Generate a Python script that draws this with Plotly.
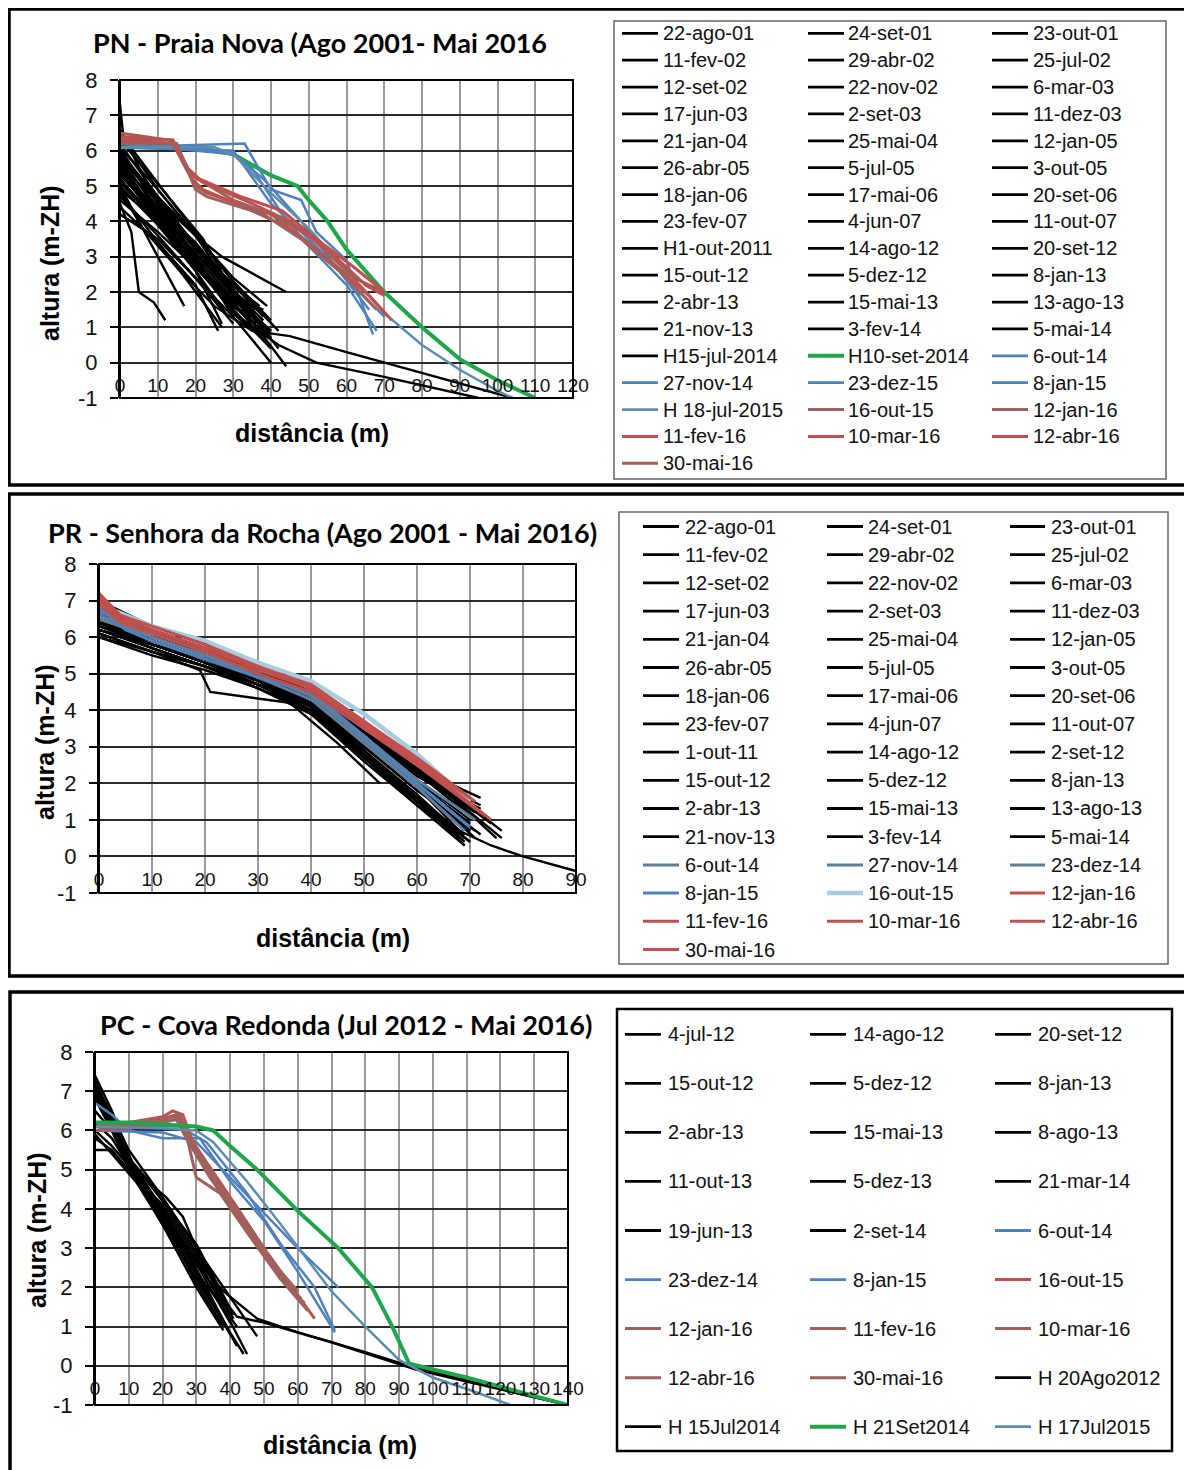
import plotly.graph_objects as go

# ---------------------------------------------------------------- DATA
Y_TICKS = [-1, 0, 1, 2, 3, 4, 5, 6, 7, 8]
Y_TICK_TEXT = ["-1", "0", "1", "2", "3", "4", "5", "6", "7", "8"]

PN_title = "PN - Praia Nova (Ago 2001- Mai 2016"
PN_x_ticks = [0, 10, 20, 30, 40, 50, 60, 70, 80, 90, 100, 110, 120]
PN_labels = [
    "22-ago-01", "24-set-01", "23-out-01", "11-fev-02", "29-abr-02", "25-jul-02",
    "12-set-02", "22-nov-02", "6-mar-03", "17-jun-03", "2-set-03", "11-dez-03",
    "21-jan-04", "25-mai-04", "12-jan-05", "26-abr-05", "5-jul-05", "3-out-05",
    "18-jan-06", "17-mai-06", "20-set-06", "23-fev-07", "4-jun-07", "11-out-07",
    "H1-out-2011", "14-ago-12", "20-set-12", "15-out-12", "5-dez-12", "8-jan-13",
    "2-abr-13", "15-mai-13", "13-ago-13", "21-nov-13", "3-fev-14", "5-mai-14",
    "H15-jul-2014", "H10-set-2014", "6-out-14", "27-nov-14", "23-dez-15", "8-jan-15",
    "H 18-jul-2015", "16-out-15", "12-jan-16", "11-fev-16", "10-mar-16", "12-abr-16",
    "30-mai-16",
]
PN_x = [
    [0, 8, 18, 28, 38], [0, 10, 20, 30, 40], [0, 10, 20, 30, 37], [0, 6, 15, 25, 35],
    [0, 3, 5, 9, 12], [0, 8, 17], [0, 10, 20, 27, 44], [0, 12, 22, 32, 42],
    [0, 10, 20, 30, 40], [0, 8, 18, 27], [0, 10, 20, 30, 38], [0, 12, 22, 32, 44],
    [0, 10, 20, 30, 40], [0, 10, 20, 26], [0, 10, 20, 30, 38], [0, 10, 20, 30, 37],
    [0, 10, 20, 30, 40], [0, 10, 20, 28], [0, 10, 20, 30, 40], [0, 10, 20, 30, 36],
    [0, 10, 20, 30], [0, 8, 18, 28, 38], [0, 10, 20, 30, 39], [0, 10, 20, 30],
    [0, 10, 20, 30, 35, 45, 60, 80, 104], [0, 10, 20, 30, 40], [0, 10, 20, 30, 38],
    [0, 10, 20, 30, 40], [0, 10, 20, 30, 36], [0, 10, 20, 27], [0, 1, 10, 20, 30, 42],
    [0, 10, 20, 30, 39], [0, 10, 20, 30, 36], [0, 10, 20, 30, 40], [0, 10, 20, 30],
    [0, 10, 20, 30, 38], [0, 10, 20, 30, 42, 52, 70, 95],
    [0, 20, 30, 40, 47, 50, 55, 60, 65, 70, 80, 90, 100, 110],
    [0, 33, 40, 48, 52, 60, 67], [0, 29, 35, 43, 50, 60, 68],
    [0, 30, 38, 48, 58, 66], [0, 30, 40, 50, 60, 70],
    [0, 25, 30, 40, 50, 60, 70, 80, 90, 100, 104],
    [0, 4, 14, 17, 20, 23, 40, 50, 60, 70], [0, 13, 16, 19, 30, 40, 50, 60, 72],
    [0, 14, 18, 22, 35, 45, 55, 65, 70], [0, 15, 19, 22, 33, 45, 56, 66, 71],
    [0, 14, 18, 21, 32, 43, 52, 62, 70], [0, 15, 20, 23, 38, 48, 58, 68],
]
PN_y = [
    [5.6, 4.4, 3.1, 1.9, 1.1], [6.0, 4.6, 3.3, 2.0, 0.8], [5.2, 4.0, 2.8, 1.6, 1.2], [4.9, 3.8, 2.7, 1.6, 0.9],
    [4.5, 3.7, 2.0, 1.7, 1.2], [5.0, 3.4, 1.6], [5.8, 4.6, 3.6, 3.0, 2.0], [6.3, 4.8, 3.4, 2.0, 0.9],
    [5.4, 4.1, 2.9, 1.7, 0.4], [4.8, 3.7, 2.3, 1.0], [5.7, 4.4, 3.0, 1.8, 1.5], [6.5, 4.8, 3.5, 1.6, -0.1],
    [4.2, 3.5, 2.4, 1.3, 0.0], [4.4, 3.4, 2.2, 0.9], [6.0, 4.5, 3.2, 2.2, 1.3], [5.5, 4.3, 3.3, 2.2, 1.6],
    [6.1, 4.9, 3.6, 2.3, 1.2], [5.2, 3.9, 2.6, 1.4], [5.8, 4.3, 3.1, 1.9, 0.7], [5.0, 3.9, 2.8, 1.8, 1.4],
    [4.7, 3.6, 2.4, 1.1], [6.6, 4.9, 3.5, 2.2, 1.2], [5.3, 4.2, 3.1, 2.0, 1.3], [5.9, 4.6, 3.0, 1.3],
    [6.0, 4.5, 2.9, 1.4, 0.9, 0.75, 0.3, -0.3, -1.0], [4.6, 3.7, 2.7, 1.5, 0.4], [5.5, 4.2, 2.8, 1.4, 0.8],
    [6.2, 4.7, 3.3, 1.9, 0.9], [5.1, 4.0, 2.8, 1.6, 1.1], [5.4, 4.0, 2.6, 1.1], [7.3, 6.3, 4.9, 3.6, 2.0, 0.4],
    [5.9, 4.7, 3.6, 2.4, 1.6], [4.9, 4.0, 3.1, 2.0, 1.5], [5.7, 4.1, 2.7, 1.6, 0.7], [6.1, 4.3, 2.8, 1.5],
    [5.3, 4.4, 3.4, 2.1, 1.0], [5.6, 4.2, 2.8, 1.4, 0.5, 0.0, -0.4, -1.0],
    [6.1, 6.1, 5.9, 5.3, 5.0, 4.6, 4.0, 3.2, 2.6, 2.0, 1.0, 0.1, -0.5, -1.0],
    [6.1, 6.2, 4.9, 4.6, 3.7, 2.9, 0.8], [6.1, 6.0, 5.5, 4.2, 3.3, 2.2, 0.9],
    [6.2, 5.9, 5.2, 4.0, 2.6, 1.5], [6.1, 6.0, 4.5, 3.5, 2.4, 1.3],
    [6.1, 6.1, 5.9, 4.8, 3.8, 2.6, 1.4, 0.5, -0.2, -0.8, -1.0],
    [6.4, 6.3, 6.3, 5.6, 5.0, 4.8, 4.2, 3.4, 2.5, 2.0], [6.5, 6.3, 5.9, 5.3, 4.6, 4.2, 3.6, 2.6, 1.2],
    [6.3, 6.2, 5.4, 5.1, 4.5, 4.0, 3.2, 2.2, 1.9], [6.3, 6.2, 5.2, 4.9, 4.4, 3.8, 2.8, 1.9, 1.3],
    [6.4, 6.3, 5.5, 5.2, 4.7, 4.3, 3.5, 2.7, 2.0], [6.2, 6.2, 4.9, 4.7, 4.2, 3.5, 2.6, 1.5],
]

PR_title = "PR - Senhora da Rocha (Ago 2001 - Mai 2016)"
PR_x_ticks = [0, 10, 20, 30, 40, 50, 60, 70, 80, 90]
PR_labels = [
    "22-ago-01", "24-set-01", "23-out-01", "11-fev-02", "29-abr-02", "25-jul-02",
    "12-set-02", "22-nov-02", "6-mar-03", "17-jun-03", "2-set-03", "11-dez-03",
    "21-jan-04", "25-mai-04", "12-jan-05", "26-abr-05", "5-jul-05", "3-out-05",
    "18-jan-06", "17-mai-06", "20-set-06", "23-fev-07", "4-jun-07", "11-out-07",
    "1-out-11", "14-ago-12", "2-set-12", "15-out-12", "5-dez-12", "8-jan-13",
    "2-abr-13", "15-mai-13", "13-ago-13", "21-nov-13", "3-fev-14", "5-mai-14",
    "6-out-14", "27-nov-14", "23-dez-14", "8-jan-15", "16-out-15", "12-jan-16",
    "11-fev-16", "10-mar-16", "12-abr-16", "30-mai-16",
]
PR_x = [
    [0, 10, 20, 30, 38, 50, 60, 70], [0, 10, 20, 30, 37, 50, 60, 69], [0, 10, 20, 30, 38, 50, 60, 71],
    [0, 10, 19, 21, 31, 36, 45, 53], [0, 10, 20, 30, 40, 50, 60, 68], [0, 10, 20, 30, 40, 50, 60, 70],
    [0, 10, 20, 30, 40, 50, 60, 72], [0, 10, 20, 30, 40, 50, 60, 69], [0, 10, 20, 30, 40, 50, 60, 70],
    [0, 10, 20, 30, 40, 50, 60, 71], [0, 10, 20, 30, 40, 50, 60, 76], [0, 10, 20, 30, 40, 50, 60, 75],
    [0, 10, 20, 30, 40, 50, 60, 72], [0, 10, 20, 30, 40, 50, 60, 69], [0, 10, 20, 30, 40, 50, 60, 70],
    [0, 10, 20, 30, 40, 50, 60, 68], [0, 10, 20, 30, 40, 50, 60, 71], [0, 10, 20, 30, 40, 50, 60, 70],
    [0, 10, 20, 30, 40, 50, 60, 74], [0, 10, 20, 30, 40, 50, 60, 69], [0, 10, 20, 30, 40, 50, 60, 70],
    [0, 10, 20, 30, 40, 50, 60, 72], [0, 10, 20, 30, 40, 50, 60, 69], [0, 10, 20, 30, 40, 50, 60, 70],
    [0, 10, 20, 30, 40, 50, 60, 68, 74, 80, 90], [0, 10, 20, 30, 40, 50, 60, 71],
    [0, 10, 20, 30, 40, 50, 60, 70], [0, 10, 20, 30, 40, 50, 60, 72], [0, 10, 20, 30, 40, 50, 60, 70],
    [0, 10, 20, 30, 40, 50, 60, 69], [0, 10, 20, 30, 40, 50, 60, 71], [0, 10, 20, 30, 40, 50, 60, 70],
    [0, 10, 20, 30, 40, 50, 60, 68], [0, 10, 20, 30, 40, 50, 60, 76], [0, 10, 20, 30, 40, 50, 60, 70],
    [0, 10, 20, 30, 40, 50, 60, 72],
    [0, 10, 20, 30, 40, 50, 60, 69], [0, 10, 20, 30, 40, 50, 60, 70], [0, 10, 20, 30, 40, 50, 60, 71],
    [0, 5, 10, 20, 30, 40, 50, 60, 70], [0, 5, 10, 20, 30, 40, 50, 60, 70],
    [0, 4, 10, 20, 30, 40, 50, 60, 74], [0, 4, 10, 20, 30, 40, 50, 60, 72],
    [0, 4, 10, 20, 30, 40, 50, 60, 71], [0, 4, 10, 20, 30, 40, 50, 60, 73],
    [0, 4, 10, 20, 30, 40, 50, 60, 70],
]
PR_y = [
    [6.5, 6.0, 5.5, 4.9, 4.3, 3.2, 2.0, 0.7], [6.2, 5.8, 5.3, 4.8, 4.2, 2.9, 1.6, 0.4], [6.6, 6.1, 5.6, 5.0, 4.5, 3.3, 2.3, 1.0],
    [6.1, 5.6, 5.1, 4.5, 4.3, 4.2, 3.1, 2.0], [6.4, 5.7, 5.2, 4.7, 4.0, 2.8, 1.6, 0.6], [6.8, 6.2, 5.7, 5.1, 4.5, 3.4, 2.3, 1.1],
    [6.3, 5.9, 5.4, 4.8, 4.2, 3.0, 1.9, 0.6], [6.0, 5.5, 5.1, 4.6, 3.9, 2.7, 1.4, 0.3], [6.7, 6.1, 5.6, 5.0, 4.4, 3.2, 2.0, 0.8],
    [6.5, 6.0, 5.5, 4.9, 4.3, 3.1, 1.9, 0.5], [6.6, 6.2, 5.7, 5.1, 4.5, 3.5, 2.5, 0.7], [6.9, 6.3, 5.8, 5.2, 4.6, 3.6, 2.5, 0.5],
    [6.4, 6.0, 5.5, 4.9, 4.4, 3.4, 2.4, 1.6], [6.2, 5.7, 5.2, 4.7, 4.0, 2.9, 1.7, 0.5], [6.3, 5.8, 5.4, 4.9, 4.2, 3.1, 1.9, 0.8],
    [6.5, 5.9, 5.4, 4.8, 4.1, 2.8, 1.5, 0.5], [6.7, 6.2, 5.7, 5.1, 4.5, 3.4, 2.3, 1.2], [6.1, 5.6, 5.2, 4.7, 4.1, 2.9, 1.6, 0.4],
    [6.8, 6.2, 5.7, 5.2, 4.6, 3.5, 2.4, 0.9], [6.4, 5.8, 5.3, 4.7, 4.0, 2.8, 1.6, 0.6], [6.6, 6.1, 5.5, 4.9, 4.3, 3.2, 2.1, 1.0],
    [6.3, 5.9, 5.4, 4.8, 4.3, 3.3, 2.2, 1.3], [6.5, 5.9, 5.4, 4.8, 4.1, 2.9, 1.6, 0.3], [6.9, 6.2, 5.6, 5.0, 4.4, 3.2, 2.0, 0.9],
    [6.4, 5.9, 5.4, 4.8, 4.2, 3.1, 1.9, 0.7, 0.3, 0.0, -0.4], [6.2, 5.8, 5.3, 4.7, 4.1, 3.0, 1.8, 0.7],
    [6.0, 5.6, 5.2, 4.6, 4.0, 2.8, 1.5, 0.4], [6.7, 6.1, 5.6, 5.0, 4.5, 3.4, 2.3, 1.4], [6.5, 6.0, 5.5, 4.9, 4.3, 3.1, 1.9, 0.7],
    [6.3, 5.8, 5.3, 4.7, 4.0, 2.7, 1.5, 0.6], [7.0, 6.3, 5.8, 5.2, 4.6, 3.5, 2.3, 1.0], [6.4, 5.9, 5.4, 4.9, 4.3, 3.2, 2.0, 0.9],
    [6.2, 5.7, 5.2, 4.6, 3.9, 2.6, 1.4, 0.6], [6.6, 6.1, 5.6, 5.1, 4.5, 3.4, 2.4, 0.5], [6.8, 6.2, 5.7, 5.1, 4.5, 3.3, 2.1, 0.8],
    [6.5, 6.0, 5.5, 5.0, 4.4, 3.3, 2.2, 1.2],
    [6.6, 6.0, 5.5, 4.9, 4.3, 3.1, 1.9, 0.7], [6.7, 6.1, 5.6, 5.0, 4.4, 3.2, 2.0, 0.8], [6.5, 6.0, 5.5, 5.0, 4.4, 3.3, 2.1, 1.0],
    [6.8, 6.2, 5.9, 5.4, 4.9, 4.5, 3.3, 2.0, 0.8], [6.9, 6.6, 6.3, 5.9, 5.3, 4.8, 3.9, 2.8, 1.5],
    [7.2, 6.6, 6.3, 5.8, 5.2, 4.7, 3.7, 2.6, 1.0], [7.0, 6.5, 6.2, 5.7, 5.1, 4.6, 3.6, 2.5, 1.2],
    [7.1, 6.6, 6.2, 5.7, 5.1, 4.7, 3.7, 2.7, 1.5], [6.9, 6.4, 6.1, 5.6, 5.0, 4.5, 3.5, 2.5, 1.1],
    [7.0, 6.5, 6.2, 5.7, 5.2, 4.6, 3.6, 2.6, 1.6],
]

PC_title = "PC - Cova Redonda (Jul 2012 - Mai 2016)"
PC_x_ticks = [0, 10, 20, 30, 40, 50, 60, 70, 80, 90, 100, 110, 120, 130, 140]
PC_labels = [
    "4-jul-12", "14-ago-12", "20-set-12", "15-out-12", "5-dez-12", "8-jan-13",
    "2-abr-13", "15-mai-13", "8-ago-13", "11-out-13", "5-dez-13", "21-mar-14",
    "19-jun-13", "2-set-14", "6-out-14", "23-dez-14", "8-jan-15", "16-out-15",
    "12-jan-16", "11-fev-16", "10-mar-16", "12-abr-16", "30-mai-16", "H 20Ago2012",
    "H 15Jul2014", "H 21Set2014", "H 17Jul2015",
]
PC_x = [
    [0, 5, 10, 20, 30, 42], [0, 5, 10, 20, 30, 44], [0, 4, 10, 20, 30, 40], [0, 5, 10, 20, 30, 41],
    [0, 5, 10, 20, 30, 40], [0, 5, 10, 15, 20, 30, 38], [0, 5, 10, 21, 26, 30, 40],
    [0, 5, 10, 20, 30, 48], [0, 5, 10, 20, 28, 39], [0, 5, 10, 20, 30, 42], [0, 3, 10, 20, 30, 45],
    [0, 5, 10, 20, 30, 40], [0, 5, 10, 16, 20, 30, 41], [0, 5, 10, 20, 30, 38],
    [0, 5, 10, 20, 31, 40, 50, 60, 71], [0, 20, 30, 40, 50, 60, 72], [0, 25, 33, 45, 55, 65, 71],
    [0, 10, 20, 23, 26, 29, 40, 50, 60, 65], [0, 10, 20, 24, 27, 30, 37, 45, 55, 62],
    [0, 10, 20, 25, 28, 35, 45, 55, 61], [0, 10, 20, 24, 27, 34, 44, 52, 58],
    [0, 10, 20, 23, 26, 33, 43, 53, 60], [0, 10, 20, 25, 28, 36, 46, 56, 63],
    [0, 5, 10, 20, 30, 38, 48, 60, 80, 93, 110, 125, 140],
    [0, 5, 10, 20, 30, 42, 50, 70, 95, 110, 125, 140],
    [0, 10, 20, 30, 35, 40, 48, 60, 72, 82, 88, 93, 110, 125, 140],
    [0, 20, 30, 35, 45, 55, 70, 80, 90, 100, 112, 123],
]
PC_y = [
    [7.3, 6.3, 5.2, 3.8, 2.4, 0.5], [7.1, 6.0, 5.0, 3.6, 2.2, 0.3], [5.5, 5.5, 4.9, 3.9, 2.6, 1.1], [6.9, 6.1, 5.3, 4.2, 2.9, 1.2],
    [5.8, 5.5, 5.0, 4.0, 2.7, 1.3], [7.4, 6.5, 5.4, 4.4, 3.8, 2.1, 1.0], [6.0, 5.6, 5.1, 4.3, 3.8, 3.0, 1.4],
    [7.2, 6.4, 5.5, 4.3, 3.0, 0.75], [6.5, 6.0, 5.2, 4.0, 2.8, 1.0], [7.0, 6.2, 5.2, 3.9, 2.4, 1.0], [5.9, 5.6, 5.0, 4.1, 2.8, 0.3],
    [6.8, 6.0, 5.1, 3.7, 2.3, 0.8], [7.2, 6.3, 5.3, 4.7, 4.2, 3.1, 1.3], [6.2, 5.8, 5.1, 3.6, 2.0, 0.9],
    [6.7, 6.4, 6.0, 5.8, 5.8, 4.7, 3.7, 2.4, 0.85], [6.0, 5.95, 5.7, 4.8, 3.9, 3.0, 2.0], [6.1, 6.1, 5.7, 4.4, 3.1, 2.0, 0.9],
    [6.1, 6.2, 6.35, 6.5, 6.4, 5.7, 4.3, 3.0, 1.8, 1.2], [6.0, 6.1, 6.3, 6.4, 5.9, 4.8, 4.4, 3.4, 2.2, 1.6],
    [6.1, 6.2, 6.3, 6.4, 5.8, 4.9, 3.5, 2.3, 1.7], [6.0, 6.1, 6.2, 6.3, 5.8, 4.8, 3.6, 2.6, 2.0],
    [6.1, 6.15, 6.25, 6.35, 6.1, 5.0, 3.9, 2.6, 1.9], [6.0, 6.05, 6.2, 6.3, 5.9, 4.6, 3.4, 2.1, 1.4],
    [6.9, 6.1, 5.2, 3.9, 2.7, 1.9, 1.2, 0.85, 0.35, 0.0, -0.35, -0.7, -1.0],
    [7.1, 6.2, 5.3, 4.0, 2.6, 1.25, 1.1, 0.6, -0.1, -0.4, -0.7, -1.0],
    [6.2, 6.2, 6.15, 6.1, 6.0, 5.6, 5.0, 3.95, 3.0, 2.0, 1.0, 0.05, -0.3, -0.65, -1.0],
    [6.1, 6.05, 6.0, 5.7, 4.7, 3.6, 1.9, 1.0, 0.15, -0.3, -0.65, -1.0],
]

# ---------------------------------------------------------------- STYLE
BLACK, GREEN, BLUE, STEEL, RED, BROWN, GRAYBLUE, LIGHTBLUE = (
    "#000000", "#1fa54a", "#4f81bd", "#5b8db0", "#c0504d", "#a0605c", "#5f7f9c", "#a9cde0")
BLACK_W = 2.4

PN_style = {"H10-set-2014": (GREEN, 4), "6-out-14": (BLUE, 2.5), "27-nov-14": (BLUE, 2.5),
            "23-dez-15": (BLUE, 2.5), "8-jan-15": (BLUE, 2.5), "H 18-jul-2015": (STEEL, 2.5),
            "16-out-15": (BROWN, 3), "12-jan-16": (BROWN, 3), "11-fev-16": (RED, 3),
            "10-mar-16": (RED, 3), "12-abr-16": (RED, 3), "30-mai-16": (BROWN, 3)}
PR_style = {"6-out-14": (GRAYBLUE, 3), "27-nov-14": (GRAYBLUE, 3), "23-dez-14": (GRAYBLUE, 3),
            "8-jan-15": (BLUE, 3), "16-out-15": (LIGHTBLUE, 4.5), "12-jan-16": (RED, 3),
            "11-fev-16": (RED, 3), "10-mar-16": (RED, 3), "12-abr-16": (RED, 3),
            "30-mai-16": (RED, 3)}
PC_style = {"6-out-14": (BLUE, 2.5), "23-dez-14": (BLUE, 2.5), "8-jan-15": (BLUE, 2.5),
            "16-out-15": (RED, 3), "12-jan-16": (BROWN, 3), "11-fev-16": (BROWN, 3),
            "10-mar-16": (BROWN, 3), "12-abr-16": (BROWN, 3), "30-mai-16": (BROWN, 3),
            "H 21Set2014": (GREEN, 4), "H 17Jul2015": (STEEL, 2.5)}

# the page places the figure 8 px in from the window's top-left corner
OFF = 8
W, H = 1192 - OFF, 1470 - OFF


def px(v):
    return (v - OFF) / W


def py(v):
    return 1 - (v - OFF) / H


FONT = "Liberation Sans, Arial, sans-serif"
TITLE_FONT = "Lato, Open Sans, sans-serif"

panels = [
    dict(title=PN_title, labels=PN_labels, xs=PN_x, ys=PN_y, style=PN_style, xt=PN_x_ticks,
         plot=(120, 573, 80, 398), y0px=363, title_pos=(320, 42), ytitle_pos=(50, 263),
         xtitle_pos=(312, 433), border=(9, 9, 1189, 485),
         legbox=(614, 21, 1166, 479, "#666666", 1.5), rows=(33.3, 26.875),
         cols=((622, 658, 661), (808, 844, 846), (992, 1028, 1031))),
    dict(title=PR_title, labels=PR_labels, xs=PR_x, ys=PR_y, style=PR_style, xt=PR_x_ticks,
         plot=(99, 576, 564, 893), y0px=857, title_pos=(322, 533), ytitle_pos=(45, 742),
         xtitle_pos=(333, 938), border=(9, 494, 1189, 976),
         legbox=(619, 512, 1168, 964, "#666666", 1.5), rows=(526.5, 28.2),
         cols=((643, 679, 683), (827, 863, 866), (1010, 1045, 1049))),
    dict(title=PC_title, labels=PC_labels, xs=PC_x, ys=PC_y, style=PC_style, xt=PC_x_ticks,
         plot=(95, 568, 1052, 1405), y0px=1366, title_pos=(346, 1024), ytitle_pos=(37, 1230),
         xtitle_pos=(340, 1445), border=(10, 992, 1189, 1480),
         legbox=(617, 1009, 1172, 1451, "#000000", 2.5), rows=(1034.3, 49.05),
         cols=((625, 661, 666), (810, 846, 851), (995, 1031, 1036))),
]

fig = go.Figure()
shapes, annotations = [], []

for i, p in enumerate(panels):
    n = "" if i == 0 else str(i + 1)
    xa, ya = "x" + n, "y" + n
    # draw black first, coloured on top
    order = [k for k, lab in enumerate(p["labels"]) if lab not in p["style"]] + \
            [k for k, lab in enumerate(p["labels"]) if lab in p["style"]]
    for k in order:
        lab = p["labels"][k]
        col, wd = p["style"].get(lab, (BLACK, BLACK_W))
        fig.add_trace(go.Scatter(x=p["xs"][k], y=p["ys"][k], mode="lines", name=lab,
                                 line=dict(color=col, width=wd), showlegend=False,
                                 hoverinfo="skip", xaxis=xa, yaxis=ya))
    x0, x1, ytop, ybot = p["plot"]
    xmax = p["xt"][-1]
    fig.update_layout(**{
        "xaxis" + n: dict(domain=[px(x0), px(x1)], range=[0, xmax], anchor="free",
                          position=py(p["y0px"]), tickmode="array", tickvals=p["xt"],
                          ticktext=[str(t) for t in p["xt"]], showgrid=True, gridcolor="#999999",
                          gridwidth=1.5, zeroline=False, showline=False, ticks="outside",
                          ticklen=5, tickcolor="rgba(0,0,0,0)", tickangle=0, automargin=False,
                          tickfont=dict(family=FONT, size=19, color="#111111")),
        "yaxis" + n: dict(domain=[py(ybot), py(ytop)], range=[-1, 8], anchor=xa,
                          tickmode="array", tickvals=Y_TICKS, ticktext=Y_TICK_TEXT,
                          showgrid=True, gridcolor="#2a2a2a", gridwidth=1.5, zeroline=False,
                          showline=True, linecolor="black", linewidth=2, ticks="outside",
                          ticklen=8, tickwidth=1.5, tickcolor="black", ticklabelstandoff=8,
                          automargin=False,
                          tickfont=dict(family=FONT, size=22, color="#111111")),
    })
    # plot frame
    shapes.append(dict(type="rect", xref=xa + " domain", yref=ya + " domain", x0=0, x1=1,
                       y0=0, y1=1, line=dict(color="black", width=2), layer="above"))
    # panel border
    bx0, by0, bx1, by1 = p["border"]
    shapes.append(dict(type="rect", xref="paper", yref="paper", x0=px(bx0), x1=px(bx1),
                       y0=py(by1), y1=py(by0), line=dict(color="black", width=3.5)))
    # legend box
    lx0, ly0, lx1, ly1, lc, lw = p["legbox"]
    shapes.append(dict(type="rect", xref="paper", yref="paper", x0=px(lx0), x1=px(lx1),
                       y0=py(ly1), y1=py(ly0), line=dict(color=lc, width=lw)))
    # titles
    tx, ty = p["title_pos"]
    annotations.append(dict(text="<b>" + p["title"] + "</b>", x=px(tx), y=py(ty), xref="paper",
                            yref="paper", showarrow=False, xanchor="center", yanchor="middle",
                            font=dict(family=TITLE_FONT, size=27, color="black")))
    ax_, ay_ = p["ytitle_pos"]
    annotations.append(dict(text="<b>altura (m-ZH)</b>", x=px(ax_), y=py(ay_), xref="paper",
                            yref="paper", showarrow=False, textangle=-90, xanchor="center",
                            yanchor="middle", font=dict(family=FONT, size=25, color="black")))
    ax_, ay_ = p["xtitle_pos"]
    annotations.append(dict(text="<b>distância (m)</b>", x=px(ax_), y=py(ay_), xref="paper",
                            yref="paper", showarrow=False, xanchor="center", yanchor="middle",
                            font=dict(family=FONT, size=25, color="black")))
    # legend entries
    r0, rstep = p["rows"]
    for k, lab in enumerate(p["labels"]):
        col, wd = p["style"].get(lab, (BLACK, BLACK_W))
        c0, c1, ctx = p["cols"][k % 3]
        yy = r0 + (k // 3) * rstep
        shapes.append(dict(type="line", xref="paper", yref="paper", x0=px(c0), x1=px(c1),
                           y0=py(yy), y1=py(yy), line=dict(color=col, width=max(2.8, wd))))
        annotations.append(dict(text=lab, x=px(ctx), y=py(yy), xref="paper", yref="paper",
                                showarrow=False, xanchor="left", yanchor="middle",
                                font=dict(family=FONT, size=20, color="#111111")))

fig.update_layout(width=W, height=H, margin=dict(l=0, r=0, t=0, b=0, autoexpand=False),
                  paper_bgcolor="white", plot_bgcolor="white", showlegend=False,
                  shapes=shapes, annotations=annotations)

fig.write_html("out.html")
